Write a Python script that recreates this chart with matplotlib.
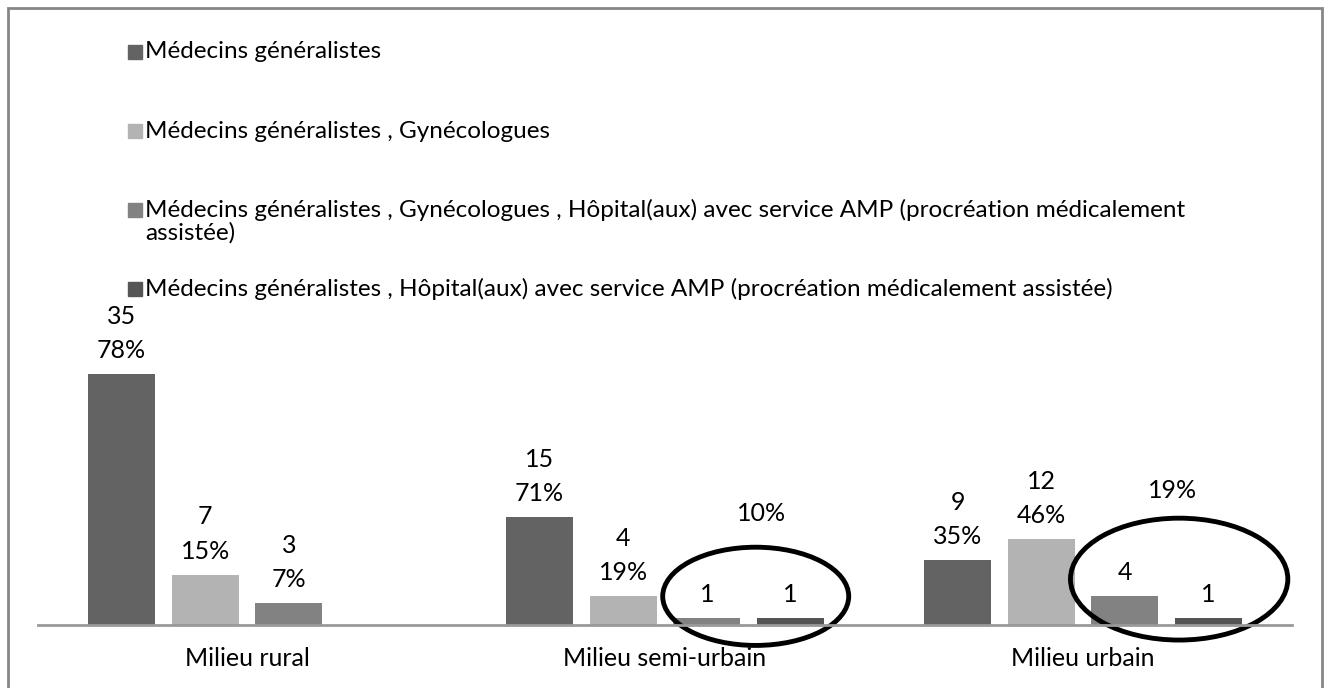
import matplotlib.pyplot as plt
from matplotlib.patches import Ellipse, Rectangle

categories = ['Milieu rural', 'Milieu semi-urbain', 'Milieu urbain']
series_names = [
    'Médecins généralistes',
    'Médecins généralistes , Gynécologues',
    'Médecins généralistes , Gynécologues , Hôpital(aux) avec service AMP (procréation médicalement\nassistée)',
    'Médecins généralistes , Hôpital(aux) avec service AMP (procréation médicalement assistée)',
]
counts = [
    [35, 15, 9],
    [7, 4, 12],
    [3, 1, 4],
    [0, 1, 1],
]
pcts = [
    ['78%', '71%', '35%'],
    ['15%', '19%', '46%'],
    ['7%', None, None],
    [None, None, None],
]
# combined percentage for the circled pair (series 3 + 4)
combined_pct = [None, '10%', '19%']
colors = ['#636363', '#b3b3b3', '#828282', '#555555']

plt.rcParams['font.family'] = ['Lato', 'DejaVu Sans']
fs = 18
fs_leg = 17.5

fig = plt.figure(figsize=(13.27, 6.88), dpi=100)
W, H = 1327, 688
ax = fig.add_axes([38 / W, 1 - 625 / H, (1292 - 38) / W, 325 / H])

width = 0.16
offsets = [-0.3, -0.1, 0.1, 0.3]
for s in range(4):
    xs = [i + offsets[s] for i in range(3)]
    bars = ax.bar(xs, counts[s], width=width, color=colors[s])
    for i, b in enumerate(bars):
        if counts[s][i] == 0:
            continue
        lab = str(counts[s][i])
        if pcts[s][i]:
            lab += '\n' + pcts[s][i]
        ax.annotate(lab, (b.get_x() + width / 2, b.get_height()),
                    xytext=(0, 12), textcoords='offset pixels',
                    ha='center', va='bottom', fontsize=fs, linespacing=1.6)

# circled pairs with their combined percentage
for i in range(3):
    if combined_pct[i] is None:
        continue
    x3, x4 = i + offsets[2], i + offsets[3]
    xm = (x3 + x4) / 2
    if i == 1:
        ax.text(xm + 0.03, 15.6, combined_pct[i], ha='center', va='center', fontsize=fs)
        ax.add_patch(Ellipse((xm + 0.017, 4.0), 0.445, 13.7, fill=False,
                             lw=3.5, ec='black', clip_on=False))
    else:
        ax.text(xm + 0.015, 18.8, combined_pct[i], ha='center', va='center', fontsize=fs)
        ax.add_patch(Ellipse((xm + 0.03, 6.4), 0.52, 17.0, fill=False,
                             lw=3.5, ec='black', clip_on=False))

ax.set_xlim(-0.5, 2.5)
ax.set_ylim(0, 325 / 7.17)
ax.set_xticks(range(3))
ax.set_xticklabels(categories, fontsize=fs)
ax.tick_params(axis='x', length=0, pad=16)
ax.set_yticks([])
for side in ['top', 'left', 'right']:
    ax.spines[side].set_visible(False)
ax.spines['bottom'].set_color('#999999')
ax.spines['bottom'].set_linewidth(2)

# legend drawn by hand to mimic the stacked layout
leg_y = [52, 131, 210, 289]
for s in range(4):
    y = leg_y[s]
    fig.patches.append(Rectangle((128 / W, 1 - (y + 7) / H), 14 / W, 14 / H,
                                 transform=fig.transFigure, color=colors[s]))
    for k, line in enumerate(series_names[s].split('\n')):
        fig.text(145 / W, 1 - (y + 23 * k) / H, line,
                 fontsize=fs_leg, va='center', ha='left')

# outer frame
fig.patches.append(Rectangle((8 / W, -0.05), (1322 - 8) / W, 1 - 8 / H + 0.05,
                             transform=fig.transFigure, fill=False,
                             ec='#868686', lw=2))

fig.savefig('out.png', dpi=100)
